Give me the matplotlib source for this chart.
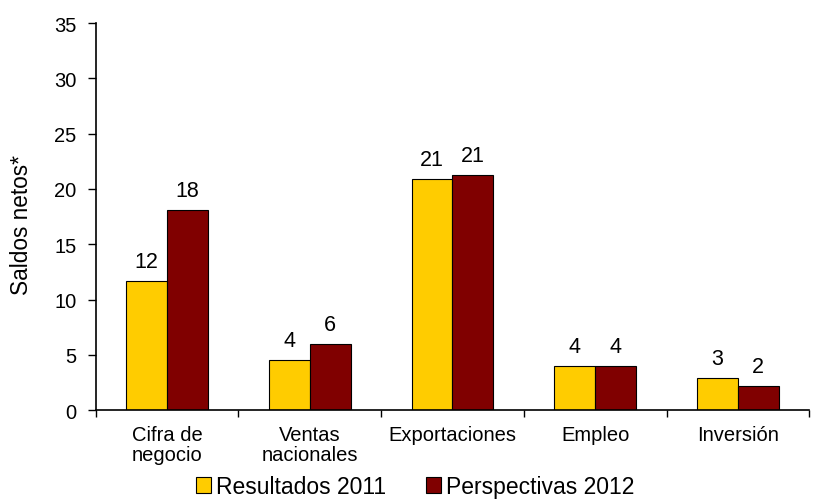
import matplotlib
matplotlib.use("Agg")
import matplotlib.pyplot as plt
import numpy as np

categories = ["Cifra de\nnegocio", "Ventas\nnacionales", "Exportaciones", "Empleo", "Inversión"]
series_names = ["Resultados 2011", "Perspectivas 2012"]
resultados_2011 = [11.7, 4.5, 20.9, 4.0, 2.9]
perspectivas_2012 = [18.1, 6.0, 21.3, 4.0, 2.2]
labels_2011 = ["12", "4", "21", "4", "3"]
labels_2012 = ["18", "6", "21", "4", "2"]
yticks = [0, 5, 10, 15, 20, 25, 30, 35]

plt.rcParams['font.family'] = ['Liberation Sans', 'DejaVu Sans']

fig = plt.figure(figsize=(8.19, 5.02), dpi=100)
ax = fig.add_axes([0.117, 0.181, 0.871, 0.771])

x = np.arange(len(categories))
w = 0.287
b1 = ax.bar(x - w/2, resultados_2011, w, color="#FFCC00", edgecolor="black", linewidth=0.8, label=series_names[0])
b2 = ax.bar(x + w/2, perspectivas_2012, w, color="#800000", edgecolor="black", linewidth=0.8, label=series_names[1])

for rects, labs in ((b1, labels_2011), (b2, labels_2012)):
    for r, t in zip(rects, labs):
        ax.annotate(t, (r.get_x() + r.get_width()/2, r.get_height()), xytext=(0, 6.5),
                    textcoords="offset points", ha="center", va="bottom", fontsize=15.5)

ax.set_xlim(-0.5, len(categories) - 0.5)
ax.set_ylim(0, 35)
ax.set_yticks(yticks)
ax.tick_params(axis='y', labelsize=14.5, length=6, width=1, direction='out', pad=8)
ax.set_xticks(x)
ax.set_xticklabels(categories, fontsize=14.5, linespacing=1.05)
ax.tick_params(axis='x', which='major', length=0, pad=11)
ax.set_xticks(np.arange(len(categories) + 1) - 0.5, minor=True)
ax.tick_params(axis='x', which='minor', length=5, width=1, direction='out')
for s in ("top", "right"):
    ax.spines[s].set_visible(False)
for s in ("left", "bottom"):
    ax.spines[s].set_linewidth(1.2)

ax.set_ylabel("Saldos netos*", fontsize=16.3)
ax.yaxis.set_label_coords(-0.088, 0.48)

leg = fig.legend(handles=[b1, b2], labels=series_names, loc="lower center",
                 bbox_to_anchor=(0.507, -0.035), ncol=2, frameon=False, fontsize=16.5,
                 handlelength=0.65, handleheight=0.65, handletextpad=0.2, columnspacing=1.75)

fig.savefig("out.png", dpi=100)
